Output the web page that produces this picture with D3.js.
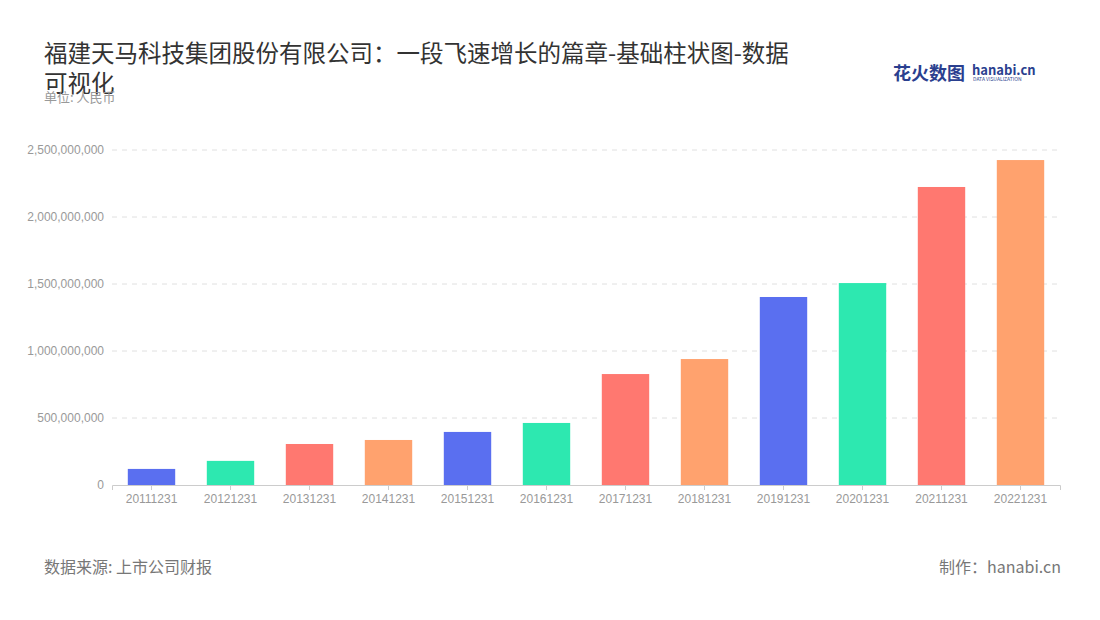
<!DOCTYPE html>
<html><head><meta charset="utf-8">
<script src="https://cdn.jsdelivr.net/npm/d3@7"></script>
<style>body{margin:0;background:#fff;font-family:"Noto Sans CJK SC","Noto Sans",sans-serif}</style>
</head><body><svg id="c" width="1100" height="620"></svg>
<script>
const categories=["20111231","20121231","20131231","20141231","20151231","20161231","20171231","20181231","20191231","20201231","20211231","20221231"];
const values=[120000000,180000000,306000000,336000000,396000000,463000000,828000000,940000000,1403000000,1507000000,2224000000,2425000000];
const colors=["#5a6ff0","#2de8b0","#ff7870","#ffa26e"];
const yTicks=[0,500000000,1000000000,1500000000,2000000000,2500000000];

const svg=d3.select("#c");
const m={l:112,r:1060,t:150,b:485};
const x=d3.scaleBand().domain(categories).range([m.l,m.r]).paddingInner(0.4).paddingOuter(0.2);
const y=d3.scaleLinear().domain([0,2500000000]).range([m.b,m.t]);

svg.append("text").attr("x",44).attr("y",62).attr("font-size",23.5).attr("fill","#333").text("福建天马科技集团股份有限公司：一段飞速增长的篇章-基础柱状图-数据");
svg.append("text").attr("x",44).attr("y",92).attr("font-size",23.5).attr("fill","#333").text("可视化");
svg.append("text").attr("x",44).attr("y",102).attr("font-size",13).attr("fill","#999").text("单位: 人民币");

svg.append("text").attr("x",893).attr("y",80).attr("font-size",18).attr("font-weight","bold").attr("fill","#2a3f8f").text("花火数图");
svg.append("text").attr("x",972).attr("y",75).attr("font-size",13).attr("font-weight","bold").attr("fill","#2a3f8f").text("hanabi.cn");
svg.append("text").attr("x",973).attr("y",81).attr("font-size",5).attr("fill","#2a3f8f").text("DATA VISUALIZATION");

const ya=svg.append("g").attr("transform",`translate(${m.l},0)`).call(d3.axisLeft(y).tickValues(yTicks).tickFormat(d3.format(",")).tickSize(0).tickPadding(8));
ya.select(".domain").remove();
ya.selectAll("text").attr("fill","#999").attr("font-size",12);
svg.append("g").selectAll("line").data(yTicks.slice(1)).join("line")
 .attr("x1",m.l).attr("x2",m.r).attr("y1",d=>y(d)).attr("y2",d=>y(d))
 .attr("stroke","#e0e0e0").attr("stroke-dasharray","5,5");

svg.append("g").selectAll("rect").data(values).join("rect")
 .attr("x",(d,i)=>x(categories[i])).attr("width",x.bandwidth())
 .attr("y",d=>y(d)).attr("height",d=>y(0)-y(d)).attr("fill",(d,i)=>colors[i%4]);

const xa=svg.append("g").attr("transform",`translate(0,${m.b})`).call(d3.axisBottom(x).tickSize(5).tickPadding(4));
xa.select(".domain").attr("stroke","#ccc");
xa.selectAll(".tick line").attr("stroke","#ccc");
xa.selectAll("text").attr("fill","#999").attr("font-size",12);

svg.append("text").attr("x",44).attr("y",573).attr("font-size",16).attr("fill","#777").text("数据来源: 上市公司财报");
svg.append("text").attr("x",1061).attr("y",573).attr("text-anchor","end").attr("font-size",16).attr("fill","#777").text("制作：hanabi.cn");
</script></body></html>
